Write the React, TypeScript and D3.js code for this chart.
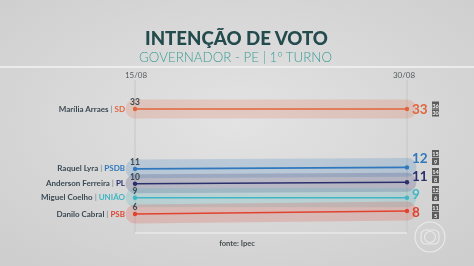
import React from "react";
import * as d3 from "d3";

const candidates = ["Marília Arraes", "Raquel Lyra", "Anderson Ferreira", "Miguel Coelho", "Danilo Cabral"];
const parties = ["SD", "PSDB", "PL", "UNIÃO", "PSB"];
const dates = ["15/08", "30/08"];
const poll1508 = [33, 11, 10, 9, 6];
const poll3008 = [33, 12, 11, 9, 8];
const upper3008 = [36, 15, 14, 12, 11];
const lower3008 = [30, 9, 8, 6, 5];
const marginOfError = 3;

const palette = ["#e2643c", "#2f78be", "#2b2f6c", "#3fb6c4", "#e0432f"];

const W = 474;
const H = 266;

export default function App() {
  const x = d3.scalePoint<string>().domain(dates).range([135, 407]);
  const valueY = d3.scaleLinear().domain([33, 0]).range([109, 199.75]);
  const slope = d3.scaleLinear().domain([-1, 1]).range([1.5, -1.5]);
  const bandHalf = d3.scaleLinear().domain([0, 3]).range([0, 9.5]);

  const rows: number[] = [];
  candidates.forEach((_, i) => {
    const mean = (poll1508[i] + poll3008[i]) / 2;
    const base = valueY(mean);
    rows.push(i === 0 ? base : Math.max(base, rows[i - 1] + 14.8));
  });
  const pts = candidates.map((_, i) => {
    const mean = (poll1508[i] + poll3008[i]) / 2;
    return [
      { d: dates[0], v: poll1508[i], y: rows[i] + slope(poll1508[i] - mean) },
      { d: dates[1], v: poll3008[i], y: rows[i] + slope(poll3008[i] - mean) },
    ];
  });
  const n = candidates.length;
  const rightY: number[] = new Array(n);
  rightY[n - 1] = pts[n - 1][1].y + 0.5;
  for (let i = n - 2; i >= 0; i--) rightY[i] = Math.min(pts[i][1].y, rightY[i + 1] - 18);

  const line = d3
    .line<{ d: string; y: number }>()
    .x((p) => x(p.d) as number)
    .y((p) => p.y);

  const x0 = x(dates[0]) as number;
  const x1 = x(dates[1]) as number;
  const font = "Lato, 'Open Sans', sans-serif";

  return (
    <svg width={W} height={H} style={{ position: "fixed", left: 0, top: 0 }} fontFamily={font}>
      <defs>
        <radialGradient id="bg" cx="50%" cy="45%" r="70%">
          <stop offset="0%" stopColor="#e3e3e3" />
          <stop offset="100%" stopColor="#cecece" />
        </radialGradient>
      </defs>
      <rect width={W} height={H} fill="url(#bg)" />
      <line x1={0} x2={W} y1={67} y2={67} stroke="#f3f3f3" strokeWidth={1.5} />

      <text x={236.5} y={44.5} textAnchor="middle" fontSize={19} fontWeight={900} fill="#234a4d"
        textLength={183} lengthAdjust="spacingAndGlyphs">
        INTENÇÃO DE VOTO
      </text>
      <text x={235.5} y={61.5} textAnchor="middle" fontSize={13.5} fontWeight={300} fill="#3a9c96"
        textLength={193} lengthAdjust="spacingAndGlyphs">
        GOVERNADOR - PE | 1º TURNO
      </text>

      {dates.map((d, i) => (
        <g key={d}>
          <line x1={x(d)} x2={x(d)} y1={80} y2={233} stroke="#c6c6c6" strokeWidth={1} />
          <text x={(x(d) as number) + (i === 0 ? 1 : -3)} y={78} textAnchor="middle" fontSize={8} fill="#555b5e">
            {d}
          </text>
        </g>
      ))}
      <line x1={x0} x2={x1} y1={233} y2={233} stroke="#f4f4f4" strokeWidth={1} />

      {candidates.map((c, i) => (
        <path
          key={"band" + c}
          d={line([
            { d: dates[0], y: pts[i][0].y },
            { d: dates[1], y: pts[i][1].y },
          ]) as string}
          stroke={palette[i]}
          strokeOpacity={0.2}
          strokeWidth={bandHalf(marginOfError) * 2}
          strokeLinecap="round"
          fill="none"
        />
      ))}

      {candidates.map((c, i) => (
        <g key={c}>
          <path d={line(pts[i]) as string} stroke={palette[i]} strokeWidth={1.6} fill="none" />
          {pts[i].map((p) => (
            <circle key={p.d} cx={x(p.d)} cy={p.y} r={2.2} fill={palette[i]} />
          ))}
          <text x={x0} y={pts[i][0].y - 4} textAnchor="middle" fontSize={8.5} fontWeight={700} fill="#3b4a50">
            {poll1508[i]}
          </text>
          <text x={125} y={pts[i][0].y - 0.5} textAnchor="end" dominantBaseline="central" fontSize={8} fontWeight={700}>
            <tspan fill="#3c4a54">{c}</tspan>
            <tspan fill="#8c969b">{" | "}</tspan>
            <tspan fill={palette[i]}>{parties[i]}</tspan>
          </text>
          <text x={412} y={rightY[i]} dominantBaseline="central" fontSize={13.5} fontWeight={700} fill={palette[i]}>
            {poll3008[i]}
          </text>
          <rect x={432} y={rightY[i] - 7.5} width={7} height={7.2} fill="#5b5b5b" />
          <rect x={432} y={rightY[i] + 0.3} width={7} height={7.2} fill="#5b5b5b" />
          <text x={435.5} y={rightY[i] - 3.9} textAnchor="middle" dominantBaseline="central" fontSize={5.6} fontWeight={700} fill="#f2f2f2">
            {upper3008[i]}
          </text>
          <text x={435.5} y={rightY[i] + 3.9} textAnchor="middle" dominantBaseline="central" fontSize={5.6} fontWeight={700} fill="#f2f2f2">
            {lower3008[i]}
          </text>
        </g>
      ))}

      <text x={237} y={246} textAnchor="middle" fontSize={7.5} fontWeight={700} fill="#474d50">
        fonte: Ipec
      </text>

      <g stroke="#f4f4f4" strokeOpacity={0.75} fill="none" strokeWidth={1.1}>
        <circle cx={430} cy={237} r={15} />
        <rect x={421} y={230} width={18} height={14} rx={5} />
        <circle cx={430} cy={237} r={5.5} />
      </g>
    </svg>
  );
}
